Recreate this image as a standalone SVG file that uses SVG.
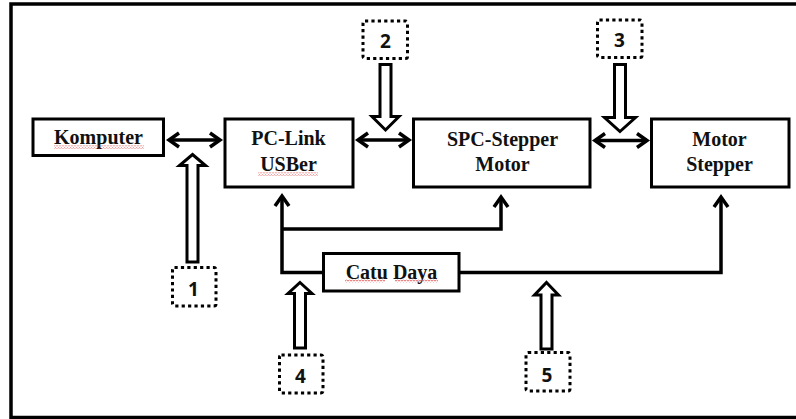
<svg xmlns="http://www.w3.org/2000/svg" width="796" height="419" viewBox="0 0 796 419">
  <style>
    .box { fill: #fff; stroke: #000; stroke-width: 3; }
    .lbl { font-family: "Liberation Serif", "Times New Roman", serif; font-weight: bold; font-size: 20px; fill: #111; text-anchor: middle; }
    .tag { fill: #fff; stroke: #000; stroke-width: 3; stroke-dasharray: 3.2 3.2; }
    .num { font-family: "Open Sans", "Liberation Sans", sans-serif; font-weight: bold; font-size: 19px; fill: #111; text-anchor: middle; }
    .wire { fill: none; stroke: #000; stroke-width: 3.5; }
    .hollow { fill: #fff; stroke: #000; stroke-width: 3; stroke-linejoin: miter; }
    .squig { fill: url(#squiggle); }
  </style>
  <defs>
    <marker id="head" markerUnits="userSpaceOnUse" viewBox="-14 -10 16 20" refX="0" refY="0" markerWidth="16" markerHeight="20" orient="auto-start-reverse" overflow="visible">
      <path d="M-10,-7 L0,0 L-10,7" fill="none" stroke="#000" stroke-width="3.5" stroke-linejoin="miter"/>
    </marker>
    <pattern id="squiggle" patternUnits="userSpaceOnUse" width="3" height="3">
      <path d="M0,2.2 L1.5,0.8 L3,2.2" fill="none" stroke="#e03a3a" stroke-width="0.8"/>
    </pattern>
  </defs>

  <!-- outer frame -->
  <rect x="11" y="4" width="800" height="413.5" fill="#fff" stroke="#000" stroke-width="3.5"/>

  <!-- connectors -->
  <g id="connectors">
    <line class="wire" x1="169" y1="140" x2="220" y2="140" marker-start="url(#head)" marker-end="url(#head)"/>
    <line class="wire" x1="358" y1="140" x2="409" y2="140" marker-start="url(#head)" marker-end="url(#head)"/>
    <line class="wire" x1="595" y1="140.5" x2="647" y2="140.5" marker-start="url(#head)" marker-end="url(#head)"/>
    <path class="wire" d="M323.5,272.5 H282 V196" marker-end="url(#head)"/>
    <path class="wire" d="M282,229 H501 V197" marker-end="url(#head)"/>
    <path class="wire" d="M459,272.5 H721 V197" marker-end="url(#head)"/>

    <!-- hollow block arrows from the numbered tags -->
    <path class="hollow" d="M192.5,154.5 L205.5,165.5 L198,165.5 L198,262 L187,262 L187,165.5 L179.5,165.5 Z"/>
    <path class="hollow" d="M385.5,130 L399,116.5 L391,116.5 L391,64.5 L380,64.5 L380,116.5 L372,116.5 Z"/>
    <path class="hollow" d="M620,131.5 L635.5,117.5 L625.5,117.5 L625.5,64.5 L614.5,64.5 L614.5,117.5 L604.5,117.5 Z"/>
    <path class="hollow" d="M300,282.5 L312,293.5 L305.5,293.5 L305.5,348 L294.5,348 L294.5,293.5 L288,293.5 Z"/>
    <path class="hollow" d="M546.5,282.5 L558.5,295 L552,295 L552,349 L541,349 L541,295 L534.5,295 Z"/>
  </g>

  <!-- blocks -->
  <g id="komputer">
    <rect class="box" x="33" y="119" width="130.5" height="36.5"/>
    <text class="lbl" x="98.5" y="143.5">Komputer</text>
    <rect class="squig" x="54" y="145.5" width="90" height="3"/>
  </g>
  <g id="pc-link">
    <rect class="box" x="225" y="119" width="128" height="68"/>
    <text class="lbl" x="288.5" y="145">PC-Link</text>
    <text class="lbl" x="288.5" y="170.5">USBer</text>
    <rect class="squig" x="258" y="172.5" width="60" height="3"/>
  </g>
  <g id="spc-stepper">
    <rect class="box" x="413.5" y="119" width="176.5" height="68"/>
    <text class="lbl" x="502.5" y="145.5">SPC-Stepper</text>
    <text class="lbl" x="502.5" y="170.5">Motor</text>
  </g>
  <g id="motor-stepper">
    <rect class="box" x="651.5" y="119" width="137.5" height="68"/>
    <text class="lbl" x="719.5" y="145.5">Motor</text>
    <text class="lbl" x="719.5" y="170.5">Stepper</text>
  </g>
  <g id="catu-daya">
    <rect class="box" x="323.5" y="253.5" width="135.5" height="37.5"/>
    <text class="lbl" x="391.5" y="279">Catu Daya</text>
    <rect class="squig" x="345" y="279.5" width="40" height="3"/>
    <rect class="squig" x="395" y="279.5" width="43" height="3"/>
  </g>

  <!-- numbered tags -->
  <g id="tag-1">
    <rect class="tag" x="172.5" y="267.5" width="43.5" height="38.5" rx="2"/>
    <text class="num" x="193.5" y="296">1</text>
  </g>
  <g id="tag-2">
    <rect class="tag" x="363" y="21" width="44.5" height="37.5" rx="2"/>
    <text class="num" x="385.5" y="47.5">2</text>
  </g>
  <g id="tag-3">
    <rect class="tag" x="597.5" y="20" width="44.5" height="37.5" rx="2"/>
    <text class="num" x="619.5" y="47">3</text>
  </g>
  <g id="tag-4">
    <rect class="tag" x="279.5" y="355" width="43.5" height="38" rx="2"/>
    <text class="num" x="300.5" y="383">4</text>
  </g>
  <g id="tag-5">
    <rect class="tag" x="526" y="352.5" width="44" height="38.5" rx="2"/>
    <text class="num" x="547" y="381.5">5</text>
  </g>
</svg>
